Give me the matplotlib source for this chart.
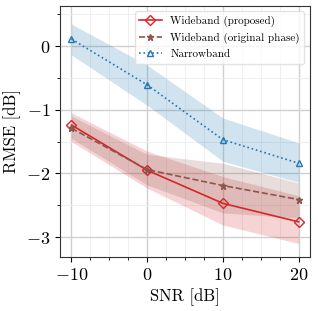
import numpy as np
import matplotlib
matplotlib.use('Agg')
from matplotlib import pyplot as plt
from matplotlib.ticker import MultipleLocator

plt.rcParams['font.family'] = 'serif'
plt.rcParams['font.serif'] = ['cmr10']
plt.rcParams['mathtext.fontset'] = 'cm'
plt.rcParams['axes.formatter.use_mathtext'] = True
plt.rcParams['axes.unicode_minus'] = True

snr = [-10, 0, 10, 20]

prop_mean = [-1.24, -1.95, -2.47, -2.76]
prop_lo = [-1.50, -2.23, -2.81, -3.10]
prop_hi = [-1.05, -1.65, -2.05, -2.35]

orig_mean = [-1.29, -1.94, -2.19, -2.41]
orig_lo = [-1.45, -2.18, -2.62, -2.70]
orig_hi = [-1.10, -1.70, -1.84, -2.15]

narrow_mean = [0.11, -0.61, -1.47, -1.84]
narrow_lo = [-0.14, -0.93, -1.81, -2.14]
narrow_hi = [0.345, -0.30, -1.13, -1.52]

fig, ax = plt.subplots(figsize=(3.18, 3.11), dpi=100)
fig.subplots_adjust(left=0.189, right=0.975, top=0.981, bottom=0.174)

ax.fill_between(snr, prop_lo, prop_hi, color='C3', alpha=0.2, lw=0)
ax.fill_between(snr, orig_lo, orig_hi, color='C5', alpha=0.2, lw=0)
ax.fill_between(snr, narrow_lo, narrow_hi, color='C0', alpha=0.2, lw=0)

ax.plot(snr, prop_mean, '-', color='C3', marker='D', mfc='none', ms=5, lw=1.2,
        label='Wideband (proposed)')
ax.plot(snr, orig_mean, '--', color='C5', marker='*', ms=5, lw=1.2,
        label='Wideband (original phase)')
ax.plot(snr, narrow_mean, ':', color='C0', marker='^', mfc='none', ms=5, lw=1.2,
        label='Narrowband')

ax.set_xlabel('SNR [dB]', fontsize=12)
ax.set_ylabel('RMSE [dB]', fontsize=12)
ax.set_xticks(snr)
ax.set_yticks([-3, -2, -1, 0])
ax.xaxis.set_minor_locator(MultipleLocator(2.5))
ax.yaxis.set_minor_locator(MultipleLocator(0.5))
ax.tick_params(labelsize=13)
ax.grid(which='major', color='#d0d0d0', lw=1.0)
ax.grid(which='minor', color='#ececec', lw=0.6)
ax.set_axisbelow(True)
ax.set_xlim(-11.5, 21.5)
ax.set_ylim(-3.31, 0.63)
for s in ax.spines.values():
    s.set_color('#333333')

ax.legend(loc='upper right', fontsize=8, framealpha=0.8, edgecolor='#dddddd')

fig.savefig('out.png')
